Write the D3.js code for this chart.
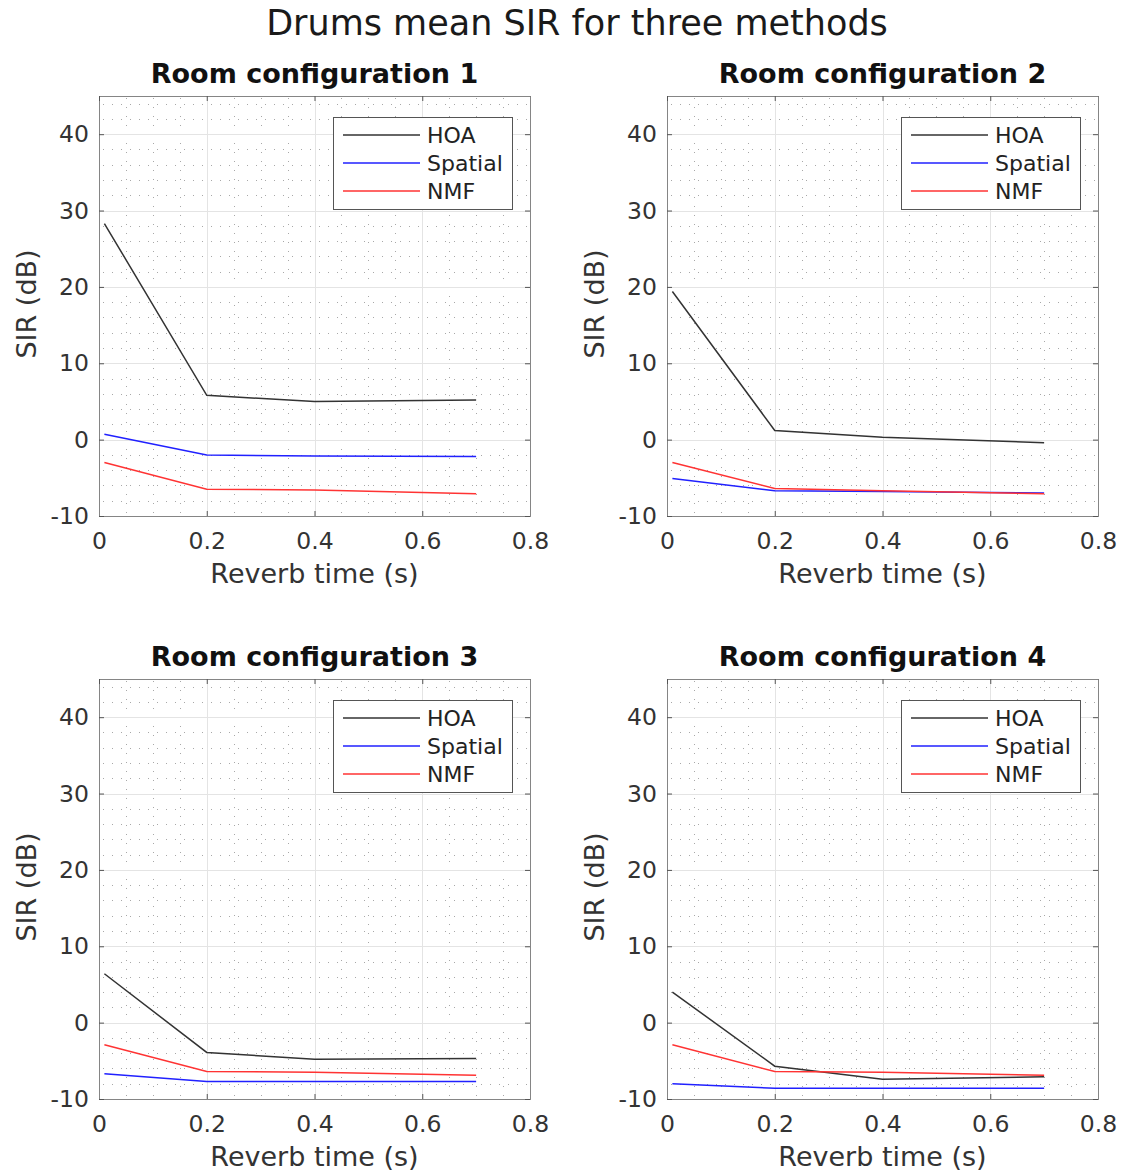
<!DOCTYPE html>
<html>
<head>
<meta charset="utf-8">
<script src="https://cdn.jsdelivr.net/npm/d3@7"></script>
<style>
  body { margin: 0; background: #fff; }
  svg { font-family: "DejaVu Sans", sans-serif; }
</style>
</head>
<body>
<div id="chart"></div>
<script>
// reverb times used in every room (s)
var reverbTimes = [0.01, 0.2, 0.4, 0.7];

// mean SIR (dB) per method, one array per room configuration
var hoaRoom1 = [28.3, 5.8, 5.0, 5.2];
var spatialRoom1 = [0.7, -2.0, -2.15, -2.2];
var nmfRoom1 = [-3.0, -6.5, -6.6, -7.1];

var hoaRoom2 = [19.4, 1.2, 0.3, -0.4];
var spatialRoom2 = [-5.1, -6.7, -6.8, -7.0];
var nmfRoom2 = [-3.0, -6.4, -6.7, -7.1];

var hoaRoom3 = [6.4, -3.9, -4.8, -4.7];
var spatialRoom3 = [-6.7, -7.7, -7.7, -7.7];
var nmfRoom3 = [-2.9, -6.4, -6.5, -6.9];

var hoaRoom4 = [4.0, -5.7, -7.4, -7.1];
var spatialRoom4 = [-8.0, -8.6, -8.6, -8.6];
var nmfRoom4 = [-2.9, -6.4, -6.5, -6.9];

var methods = ["HOA", "Spatial", "NMF"];
var xTicks = [0, 0.2, 0.4, 0.6, 0.8];
var yTicks = [-10, 0, 10, 20, 30, 40];

var colors = { "HOA": "#333333", "Spatial": "#2020ff", "NMF": "#ff3333" };

var svg = d3.select("#chart")
    .append("svg")
    .attr("width", 1124)
    .attr("height", 1173);

//Figure title
svg.append("text")
    .attr("x", 577)
    .attr("y", 35)
    .attr("text-anchor", "middle")
    .style("font-size", "35px")
    .style("fill", "#1a1a1a")
    .text("Drums mean SIR for three methods");

function drawPanel(left, top, title, series) {
    "use strict";
    var w = 431, h = 420;
    var g = svg.append("g").attr("transform", "translate(" + left + "," + top + ")");

    var x = d3.scaleLinear().domain([0, 0.8]).range([0, w]);
    var y = d3.scaleLinear().domain([-10, 45]).range([h, 0]);

    //Minor grid (dotted)
    g.selectAll(".minorx")
        .data(d3.range(0.05, 0.8, 0.05).filter(function (d) { return Math.abs(d * 5 - Math.round(d * 5)) > 1e-6; }))
        .enter().append("line")
        .attr("x1", function (d) { return Math.round(x(d)) + 0.5; })
        .attr("x2", function (d) { return Math.round(x(d)) + 0.5; })
        .attr("y1", 2).attr("y2", h)
        .attr("stroke", "#a8a8a8")
        .attr("stroke-dasharray", "1,8");
    g.selectAll(".minory")
        .data(d3.range(-8, 45, 2).filter(function (d) { return d % 10 !== 0; }))
        .enter().append("line")
        .attr("y1", function (d) { return Math.round(y(d)) + 0.5; })
        .attr("y2", function (d) { return Math.round(y(d)) + 0.5; })
        .attr("x1", 4).attr("x2", w)
        .attr("stroke", "#a8a8a8")
        .attr("stroke-dasharray", "1,8");

    //Major grid
    g.selectAll(".majorx")
        .data(xTicks.slice(1, -1))
        .enter().append("line")
        .attr("x1", function (d) { return Math.round(x(d)) + 0.5; })
        .attr("x2", function (d) { return Math.round(x(d)) + 0.5; })
        .attr("y1", 0).attr("y2", h)
        .attr("stroke", "#e4e4e4");
    g.selectAll(".majory")
        .data(yTicks.slice(1))
        .enter().append("line")
        .attr("y1", function (d) { return Math.round(y(d)) + 0.5; })
        .attr("y2", function (d) { return Math.round(y(d)) + 0.5; })
        .attr("x1", 0).attr("x2", w)
        .attr("stroke", "#e4e4e4");

    //Data lines
    var line = d3.line()
        .x(function (d) { return x(d[0]); })
        .y(function (d) { return y(d[1]); });
    methods.forEach(function (m) {
        g.append("path")
            .datum(d3.zip(reverbTimes, series[m]))
            .attr("d", line)
            .attr("fill", "none")
            .attr("stroke", colors[m])
            .attr("stroke-width", 1.5);
    });

    //Axes (ticks inside, mirrored on the opposite side)
    var axisColor = "#858585";
    var bottom = g.append("g").attr("transform", "translate(0," + h + ")")
        .call(d3.axisBottom(x).tickValues(xTicks).tickSize(-5).tickPadding(16)
            .tickFormat(function (d) { return d === 0 ? "0" : d3.format(".1f")(d); }));
    var leftAx = g.append("g")
        .call(d3.axisLeft(y).tickValues(yTicks).tickSize(-5).tickPadding(10)
            .tickFormat(function (d) { return String(d); }));
    var topAx = g.append("g")
        .call(d3.axisTop(x).tickValues(xTicks).tickSize(-5).tickFormat(""));
    var rightAx = g.append("g").attr("transform", "translate(" + w + ",0)")
        .call(d3.axisRight(y).tickValues(yTicks).tickSize(-5).tickFormat(""));
    [bottom, leftAx, topAx, rightAx].forEach(function (a) {
        a.select(".domain").attr("stroke", axisColor);
        a.selectAll(".tick line").attr("stroke", "#555");
        a.selectAll("text")
            .style("font-family", "DejaVu Sans, sans-serif")
            .style("font-size", "23.5px")
            .style("fill", "#333");
    });

    //Axis labels and title
    g.append("text")
        .attr("x", w / 2)
        .attr("y", h + 67)
        .attr("text-anchor", "middle")
        .style("font-size", "27px")
        .style("fill", "#333")
        .text("Reverb time (s)");
    g.append("text")
        .attr("transform", "translate(" + (-63) + "," + (h / 2 - 2) + ") rotate(-90)")
        .attr("text-anchor", "middle")
        .style("font-size", "27px")
        .style("fill", "#333")
        .text("SIR (dB)");
    g.append("text")
        .attr("x", w / 2)
        .attr("y", -13)
        .attr("text-anchor", "middle")
        .style("font-size", "27px")
        .style("font-weight", "bold")
        .style("fill", "#111")
        .text(title);

    //Legend
    var lg = g.append("g").attr("transform", "translate(" + (w - 197) + ",21)");
    lg.append("rect")
        .attr("x", 0.5).attr("y", 0.5)
        .attr("width", 179).attr("height", 92)
        .attr("fill", "#fff")
        .attr("stroke", "#555");
    methods.forEach(function (m, i) {
        var ly = 18 + i * 28;
        lg.append("line")
            .attr("x1", 10).attr("x2", 87)
            .attr("y1", ly).attr("y2", ly)
            .attr("stroke", colors[m])
            .attr("stroke-width", 1.5);
        lg.append("text")
            .attr("x", 94)
            .attr("y", ly + 8)
            .style("font-size", "22px")
            .style("fill", "#222")
            .text(m);
    });
}

drawPanel(99, 96, "Room configuration 1", { "HOA": hoaRoom1, "Spatial": spatialRoom1, "NMF": nmfRoom1 });
drawPanel(667, 96, "Room configuration 2", { "HOA": hoaRoom2, "Spatial": spatialRoom2, "NMF": nmfRoom2 });
drawPanel(99, 679, "Room configuration 3", { "HOA": hoaRoom3, "Spatial": spatialRoom3, "NMF": nmfRoom3 });
drawPanel(667, 679, "Room configuration 4", { "HOA": hoaRoom4, "Spatial": spatialRoom4, "NMF": nmfRoom4 });
</script>
</body>
</html>
